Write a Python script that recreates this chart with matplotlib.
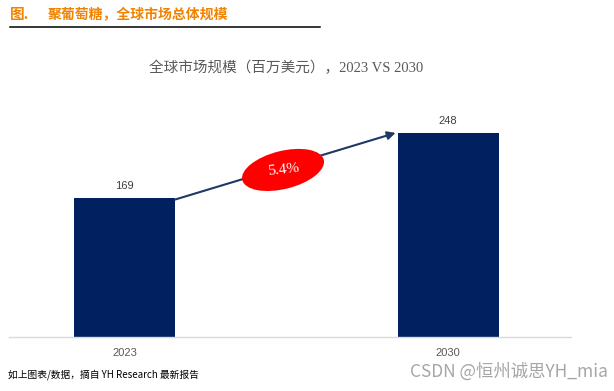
import matplotlib.pyplot as plt
from matplotlib.patches import Ellipse
from matplotlib import transforms

cjk = ['Noto Sans CJK SC', 'DejaVu Sans']
plt.rcParams['font.family'] = cjk

years = ['2023', '2030']
values = [169, 248]
cagr = '5.4%'

fig = plt.figure(figsize=(6.14, 3.91), dpi=100)

# header
fig.text(10 / 614, 1 - 14 / 391, '图.', color='#F08300',
         fontsize=10.5, fontweight='bold', va='center', ha='left')
fig.text(48 / 614, 1 - 14 / 391, '聚葡萄糖，全球市场总体规模', color='#F08300',
         fontsize=10, fontweight='bold', va='center', ha='left')
fig.add_artist(plt.Line2D([10 / 614, 320 / 614], [1 - 27 / 391, 1 - 27 / 391],
                          color='black', lw=1.1))

# chart title
fig.text(286 / 614, 1 - 68 / 391, '全球市场规模（百万美元），2023 VS 2030',
         family=['Liberation Serif', 'Noto Sans CJK SC'], color='#595959',
         fontsize=10.5, ha='center', va='center')

ax = fig.add_axes([9 / 614, 54 / 391, 562 / 614, 237 / 391])
x = [0, 1]
w = 0.312
ax.bar(x, values, width=w, color='#002060')
ax.set_xlim(-0.357, 1.380)
ax.set_ylim(0, 288)

for s in ['top', 'right', 'left']:
    ax.spines[s].set_visible(False)
ax.spines['bottom'].set_color('#d9d9d9')
ax.spines['bottom'].set_linewidth(1)
ax.set_yticks([])
ax.set_xticks(x)
ax.set_xticklabels(years, color='#595959', fontsize=8, family=['Liberation Sans'])
ax.tick_params(axis='x', length=0, pad=8)

for xi, v in zip(x, values):
    ax.text(xi, v + 8, str(v), ha='center', va='bottom', fontsize=8,
            color='#404040', family=['Liberation Sans'])

# growth arrow
ax.annotate('', xy=(x[1] - w / 2 - 0.006, values[1]), xytext=(x[0] + w / 2, values[0] - 2),
            arrowprops=dict(arrowstyle='-|>', color='#1F3864', lw=1.5,
                            mutation_scale=12, shrinkA=0, shrinkB=0))

cx, cy = 0.49, 203
trans = fig.dpi_scale_trans + transforms.ScaledTranslation(cx, cy, ax.transData)
ax.add_patch(Ellipse((0, 0), 0.84, 0.38, angle=14, transform=trans,
                     facecolor='#FF0000', edgecolor='none', zorder=3))
ax.text(cx, cy, cagr, ha='center', va='center', color='white', fontsize=11,
        family=['Liberation Serif'], rotation=6, zorder=4)

# footer
fig.text(8 / 614, 1 - 375 / 391, '如上图表/数据，摘自 YH Research 最新报告',
         fontsize=7, style='italic', color='black', va='center', ha='left')
fig.text(608 / 614, 1 - 372 / 391, 'CSDN @恒州诚思YH_mia', fontsize=12.5,
         color='#a6a6a6', va='center', ha='right')

fig.savefig('out.png', dpi=100)
